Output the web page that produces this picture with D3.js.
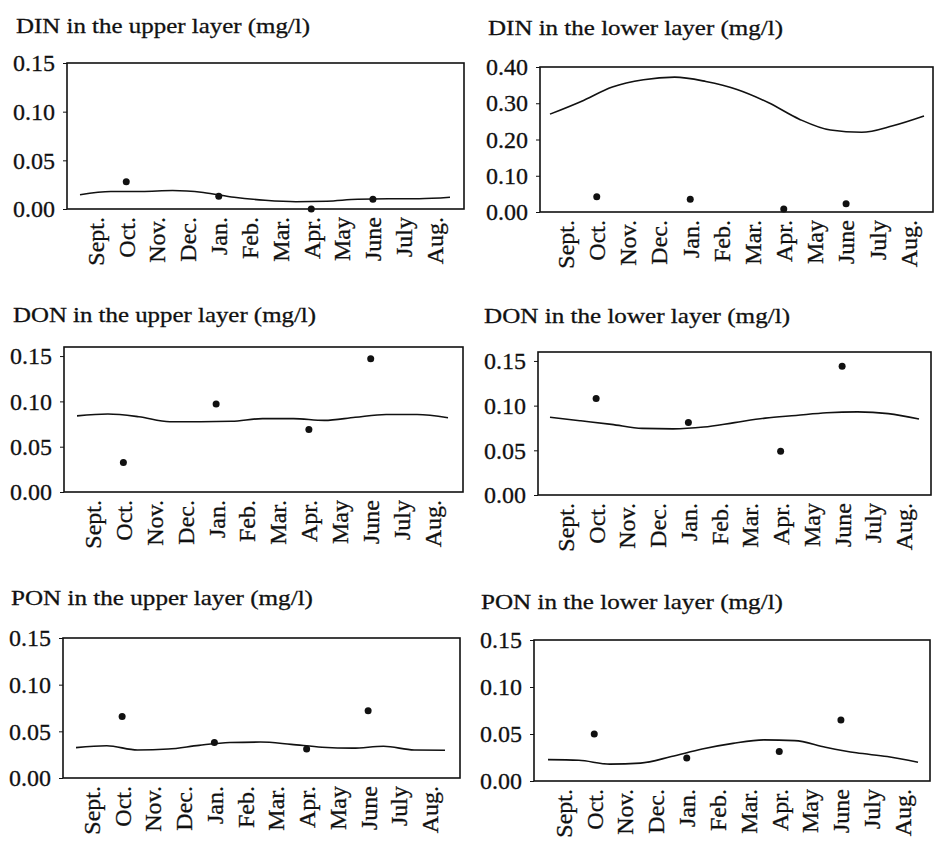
<!DOCTYPE html>
<html>
<head>
<meta charset="utf-8">
<script src="https://cdn.jsdelivr.net/npm/d3@7"></script>
<style>
  html, body { margin: 0; padding: 0; background: #fff; }
  svg text { font-family: "Liberation Serif", "Times New Roman", serif; fill: #111; stroke: #111; stroke-width: 0.3px; }
  .title { font-size: 22px; }
</style>
</head>
<body>
<svg id="chart" width="936" height="841"></svg>
<script>
/* global d3 */

const FONT = '"Liberation Serif", "Times New Roman", serif';

const MONTHS = ["Sept.", "Oct.", "Nov.", "Dec.", "Jan.", "Feb.", "Mar.", "Apr.", "May", "June", "July", "Aug."];
// month edges (start of Sept = 0 ... end of Aug = 12) where the model curve is read
const MONTH_EDGES = [0, 1, 2, 3, 4, 5, 6, 7, 8, 9, 10, 11, 12];
const SAMPLE_MONTHS = ["Oct.", "Jan.", "Apr.", "June"];

const TITLES = [
  "DIN in the upper layer (mg/l)",
  "DIN in the lower layer (mg/l)",
  "DON in the upper layer (mg/l)",
  "DON in the lower layer (mg/l)",
  "PON in the upper layer (mg/l)",
  "PON in the lower layer (mg/l)",
];

const TICKS_015 = [0, 0.05, 0.1, 0.15];
const TICKS_040 = [0, 0.1, 0.2, 0.3, 0.4];
const Y_MAX = [0.15, 0.4, 0.16, 0.16, 0.15, 0.15];

// model curves (mg/l)
const dinUpperModel = [0.0147, 0.018, 0.018, 0.019, 0.017, 0.012, 0.009, 0.0075, 0.008, 0.010, 0.0105, 0.0105, 0.012];
const dinLowerModel = [0.27, 0.305, 0.345, 0.365, 0.372, 0.36, 0.338, 0.302, 0.256, 0.226, 0.22, 0.238, 0.265];
const donUpperModel = [0.084, 0.086, 0.083, 0.0775, 0.0775, 0.078, 0.081, 0.081, 0.079, 0.0825, 0.0855, 0.0855, 0.082];
const donLowerModel = [0.087, 0.083, 0.079, 0.0745, 0.074, 0.076, 0.081, 0.086, 0.089, 0.092, 0.093, 0.091, 0.085];
const ponUpperModel = [0.0325, 0.0345, 0.030, 0.031, 0.035, 0.038, 0.0385, 0.036, 0.033, 0.032, 0.034, 0.030, 0.0297];
const ponLowerModel = [0.0227, 0.022, 0.018, 0.019, 0.026, 0.034, 0.040, 0.0437, 0.043, 0.036, 0.030, 0.026, 0.020];

// observed values (Oct., Jan., Apr., June)
const dinUpperObs = [0.028, 0.013, 0.0, 0.010];
const dinLowerObs = [0.042, 0.035, 0.008, 0.023];
const donUpperObs = [0.0325, 0.097, 0.069, 0.147];
const donLowerObs = [0.108, 0.081, 0.049, 0.144];
const ponUpperObs = [0.066, 0.038, 0.031, 0.072];
const ponLowerObs = [0.050, 0.0245, 0.0315, 0.065];

const MODELS = [dinUpperModel, dinLowerModel, donUpperModel, donLowerModel, ponUpperModel, ponLowerModel];
const OBS = [dinUpperObs, dinLowerObs, donUpperObs, donLowerObs, ponUpperObs, ponLowerObs];
const TICKS = [TICKS_015, TICKS_040, TICKS_015, TICKS_015, TICKS_015, TICKS_015];

// panel geometry, pixels
const LAYOUT = [
  { left: 67, right: 464, top: 63, bottom: 209, x0: 80, x1: 450, tx: 16, ty: 33, tw: 294 },
  { left: 540, right: 933, top: 67, bottom: 212, x0: 550, x1: 924, tx: 488, ty: 35, tw: 295 },
  { left: 64, right: 463, top: 347, bottom: 492, x0: 77, x1: 448, tx: 13, ty: 322, tw: 303 },
  { left: 538, right: 931, top: 352, bottom: 495, x0: 550, x1: 919, tx: 484, ty: 323, tw: 306 },
  { left: 63, right: 460, top: 638, bottom: 778, x0: 76, x1: 445, tx: 11, ty: 605, tw: 302 },
  { left: 534, right: 930, top: 640, bottom: 781, x0: 548, x1: 918, tx: 481, ty: 609, tw: 302 },
];

const svg = d3.select("#chart");

function drawPanel(i) {
  const L = LAYOUT[i];
  const g = svg.append("g").attr("class", "panel");

  const xMonth = d3.scaleBand().domain(MONTHS).range([L.x0, L.x1]).paddingInner(0);
  const xEdge = d3.scaleLinear().domain([0, 12]).range([L.x0, L.x1]);
  const y = d3.scaleLinear().domain([0, Y_MAX[i]]).range([L.bottom, L.top]);

  g.append("text")
    .attr("class", "title")
    .attr("x", L.tx)
    .attr("y", L.ty)
    .attr("textLength", L.tw)
    .attr("lengthAdjust", "spacingAndGlyphs")
    .text(TITLES[i]);

  g.append("rect")
    .attr("x", L.left)
    .attr("y", L.top)
    .attr("width", L.right - L.left)
    .attr("height", L.bottom - L.top)
    .attr("fill", "none")
    .attr("stroke", "#111")
    .attr("stroke-width", 1.6);

  const yAxis = g.append("g")
    .attr("class", "axis y-axis")
    .attr("transform", `translate(${L.left},0)`)
    .call(d3.axisLeft(y).tickValues(TICKS[i]).tickFormat(d3.format(".2f")).tickSize(4).tickPadding(8))
    .attr("font-family", FONT)
    .attr("font-size", 24);
  yAxis.select(".domain").remove();
  yAxis.selectAll(".tick line").attr("stroke", "#111");
  yAxis.selectAll(".tick text").attr("fill", "#111");

  const xAxis = g.append("g")
    .attr("class", "axis x-axis")
    .attr("transform", `translate(0,${L.bottom})`)
    .call(d3.axisBottom(xMonth).tickSize(0))
    .attr("font-family", FONT)
    .attr("font-size", 24);
  xAxis.select(".domain").remove();
  xAxis.selectAll(".tick text")
    .attr("fill", "#111")
    .attr("transform", "rotate(-90)")
    .attr("x", -8)
    .attr("y", 0)
    .attr("dy", "0.35em")
    .style("text-anchor", "end");

  const line = d3.line()
    .x((d, k) => xEdge(MONTH_EDGES[k]))
    .y((d) => y(d))
    .curve(d3.curveMonotoneX);

  g.append("path")
    .datum(MODELS[i])
    .attr("d", line)
    .attr("fill", "none")
    .attr("stroke", "#111")
    .attr("stroke-width", 1.6);

  g.selectAll(".obs")
    .data(OBS[i])
    .join("circle")
    .attr("class", "obs")
    .attr("cx", (d, k) => xMonth(SAMPLE_MONTHS[k]) + xMonth.bandwidth() / 2)
    .attr("cy", (d) => y(d))
    .attr("r", 3.5)
    .attr("fill", "#111");
}

TITLES.forEach((t, i) => drawPanel(i));
</script>
</body>
</html>
